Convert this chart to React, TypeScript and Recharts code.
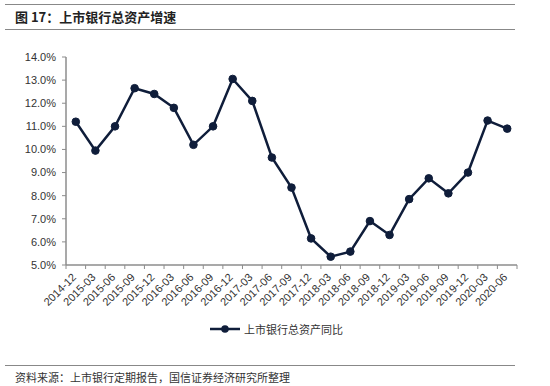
import React from 'react';
import { LineChart, Line, XAxis, YAxis } from 'recharts';

const periods = [
  '2014-12', '2015-03', '2015-06', '2015-09', '2015-12', '2016-03', '2016-06', '2016-09',
  '2016-12', '2017-03', '2017-06', '2017-09', '2017-12', '2018-03', '2018-06', '2018-09',
  '2018-12', '2019-03', '2019-06', '2019-09', '2019-12', '2020-03', '2020-06',
];

// 上市银行总资产同比 (%)
const assetGrowth = [
  11.2, 9.95, 11.0, 12.65, 12.4, 11.8, 10.2, 11.0,
  13.05, 12.1, 9.65, 8.35, 6.15, 5.36, 5.58, 6.9,
  6.3, 7.85, 8.75, 8.1, 9.0, 11.25, 10.9,
];

const yTicks = [5, 6, 7, 8, 9, 10, 11, 12, 13, 14];

const seriesName = '上市银行总资产同比';
const title = '图 17：上市银行总资产增速';
const source = '资料来源：上市银行定期报告，国信证券经济研究所整理';

const data = periods.map((p, i) => ({ period: p, value: assetGrowth[i] }));

const LINE_COLOR = '#0f1d3a';
const AXIS_COLOR = '#8c8c8c';
const CJK = '"Noto Sans CJK SC", "Liberation Sans", sans-serif';

const PLOT_W = 550 - 66 - 33;
const BAND = PLOT_W / periods.length;

const XTick = (props: any) => {
  const { x, y, payload, index } = props;
  return (
    <g>
      <line x1={x - BAND / 2} x2={x - BAND / 2} y1={y} y2={y + 4} stroke={AXIS_COLOR} />
      {index === periods.length - 1 && (
        <line x1={x + BAND / 2} x2={x + BAND / 2} y1={y} y2={y + 4} stroke={AXIS_COLOR} />
      )}
      <text
        x={x + 1}
        y={y + 13}
        transform={`rotate(-45, ${x + 1}, ${y + 13})`}
        textAnchor="end"
        fontSize={11}
        fill="#333"
      >
        {payload.value}
      </text>
    </g>
  );
};

const App = () => {
  return (
    <div
      style={{
        position: 'absolute',
        top: 0,
        left: 0,
        width: 550,
        height: 386,
        background: '#fff',
        fontFamily: '"Liberation Sans", Arial, sans-serif',
      }}
    >
      <div style={{ position: 'absolute', left: 5, top: 4, width: 510, borderTop: '1.5px solid #888' }} />
      <div
        style={{
          position: 'absolute',
          left: 15,
          top: 7,
          fontFamily: CJK,
          fontWeight: 'bold',
          fontSize: 13,
          color: '#222',
          whiteSpace: 'nowrap',
        }}
      >
        {title}
      </div>
      <div style={{ position: 'absolute', left: 5, top: 29, width: 510, borderTop: '1.5px solid #888' }} />

      <div style={{ position: 'absolute', left: 0, top: 0 }}>
        <LineChart width={550} height={320} data={data} margin={{ top: 57, right: 33, left: 0, bottom: 0 }}>
          <XAxis
            dataKey="period"
            interval={0}
            height={55}
            padding={{ left: BAND / 2, right: BAND / 2 }}
            tickLine={false}
            tickSize={0}
            tickMargin={0}
            axisLine={{ stroke: AXIS_COLOR, strokeWidth: 1.5 }}
            tick={<XTick />}
          />
          <YAxis
            width={66}
            domain={[5, 14]}
            ticks={yTicks}
            interval={0}
            tickFormatter={(v: number) => `${v.toFixed(1)}%`}
            axisLine={{ stroke: AXIS_COLOR, strokeWidth: 1.5 }}
            tickLine={{ stroke: AXIS_COLOR }}
            tickSize={4}
            tickMargin={6}
            tick={{ fontSize: 11, fill: '#333' }}
          />
          <Line
            dataKey="value"
            name={seriesName}
            stroke={LINE_COLOR}
            strokeWidth={2.5}
            dot={{ r: 3.8, fill: LINE_COLOR, stroke: LINE_COLOR, strokeWidth: 1 }}
            isAnimationActive={false}
          />
        </LineChart>
      </div>

      <div style={{ position: 'absolute', left: 210, top: 321, display: 'flex', alignItems: 'center' }}>
        <svg width={32} height={14}>
          <line x1={0} x2={30} y1={7} y2={7} stroke={LINE_COLOR} strokeWidth={2.5} />
          <circle cx={15} cy={7} r={3.8} fill={LINE_COLOR} />
        </svg>
        <span style={{ fontFamily: CJK, fontSize: 11, color: '#333', marginLeft: 2 }}>{seriesName}</span>
      </div>

      <div style={{ position: 'absolute', left: 5, top: 365, width: 510, borderTop: '1.5px solid #888' }} />
      <div
        style={{
          position: 'absolute',
          left: 15,
          top: 369,
          fontFamily: CJK,
          fontSize: 11,
          color: '#333',
          whiteSpace: 'nowrap',
        }}
      >
        {source}
      </div>
    </div>
  );
};

export default App;
